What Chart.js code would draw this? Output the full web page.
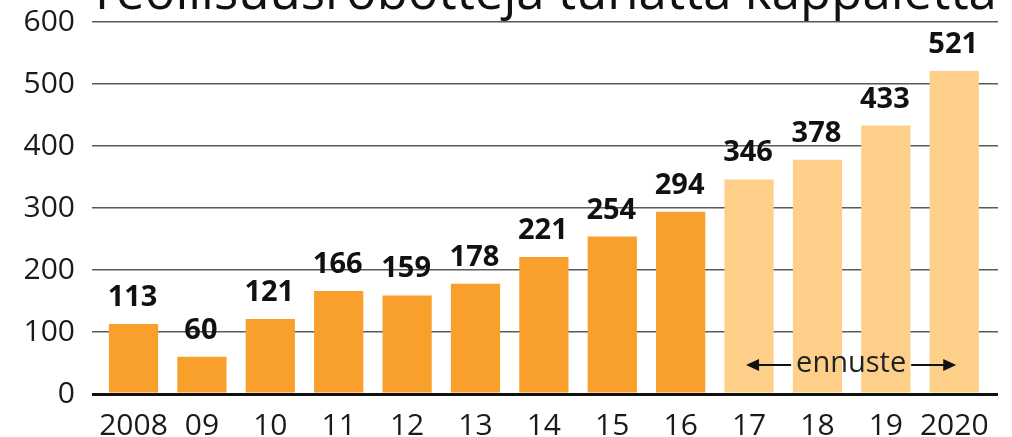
<!DOCTYPE html>
<html><head><meta charset="utf-8">
<script src="https://cdn.jsdelivr.net/npm/chart.js@4/dist/chart.umd.min.js"></script>
<style>html,body{margin:0;padding:0;background:#fff;overflow:hidden}
#wrap{position:relative;width:1012px;height:437px}</style>
</head><body><div id="wrap"><canvas id="c"></canvas></div>
<script>
const title = 'Teollisuusrobotteja tuhatta kappaletta';
const years = ['2008','09','10','11','12','13','14','15','16','17','18','19','2020'];
const robots = [113,60,121,166,159,178,221,254,294,346,378,433,521];
const forecastFrom = 9;
const forecastLabel = 'ennuste';
const yTicks = [0,100,200,300,400,500,600];

const FONT = '"Open Sans", "DejaVu Sans", sans-serif';
const DARK = '#F8A02B', LIGHT = '#FDCF88';

const titlePlugin = {
  id: 'titleCut',
  afterDraw(chart) {
    const ctx = chart.ctx;
    ctx.save();
    ctx.font = '40px ' + FONT;
    const w = ctx.measureText(title).width;
    const size = 40 * 909 / w;
    ctx.font = size + 'px ' + FONT;
    ctx.fillStyle = '#111';
    ctx.textBaseline = 'alphabetic';
    ctx.textAlign = 'left';
    ctx.fillText(title, 88, 9);
    ctx.restore();
  }
};

const valuePlugin = {
  id: 'values',
  afterDatasetsDraw(chart) {
    const ctx = chart.ctx;
    const meta = chart.getDatasetMeta(0);
    ctx.save();
    ctx.font = 'bold 29px ' + FONT;
    ctx.fillStyle = '#111';
    ctx.textAlign = 'center';
    ctx.textBaseline = 'alphabetic';
    meta.data.forEach((bar, i) => {
      ctx.fillText(String(robots[i]), bar.x - 1, bar.y - 18);
    });
    ctx.restore();
  }
};

const forecastPlugin = {
  id: 'forecast',
  afterDatasetsDraw(chart) {
    const ctx = chart.ctx;
    const xs = chart.scales.x;
    const x1 = xs.getPixelForValue(forecastFrom) - 3;
    const x2 = xs.getPixelForValue(years.length - 1) + 2;
    const y = chart.chartArea.bottom - 29;
    const mid = (x1 + x2) / 2;
    ctx.save();
    ctx.font = '29px ' + FONT;
    const tw = ctx.measureText(forecastLabel).width;
    ctx.fillStyle = '#222';
    ctx.textAlign = 'center';
    ctx.textBaseline = 'middle';
    ctx.fillText(forecastLabel, mid, y - 1);
    ctx.strokeStyle = '#111';
    ctx.lineWidth = 2;
    const gap = 5;
    const ah = 13, aw = 6;
    ctx.beginPath();
    ctx.moveTo(x1 + ah - 1, y); ctx.lineTo(mid - tw / 2 - gap, y);
    ctx.moveTo(mid + tw / 2 + gap, y); ctx.lineTo(x2 - ah + 1, y);
    ctx.stroke();
    ctx.fillStyle = '#111';
    ctx.beginPath();
    ctx.moveTo(x1, y); ctx.lineTo(x1 + ah, y - aw); ctx.lineTo(x1 + ah, y + aw); ctx.closePath();
    ctx.fill();
    ctx.beginPath();
    ctx.moveTo(x2, y); ctx.lineTo(x2 - ah, y - aw); ctx.lineTo(x2 - ah, y + aw); ctx.closePath();
    ctx.fill();
    ctx.restore();
  }
};

new Chart(document.getElementById('c'), {
  type: 'bar',
  data: {
    datasets: [{
      data: robots.map((v, i) => ({ x: i, y: v })),
      backgroundColor: robots.map((_, i) => i >= forecastFrom ? LIGHT : DARK),
      borderWidth: 0,
      barPercentage: 0.72,
      categoryPercentage: 1
    }]
  },
  options: {
    responsive: true,
    maintainAspectRatio: false,
    animation: false,
    devicePixelRatio: 1,
    layout: { padding: { top: 22, right: 14, left: 0, bottom: 0 } },
    plugins: { legend: { display: false }, tooltip: { enabled: false }, title: { display: false } },
    scales: {
      x: {
        type: 'linear',
        offset: false,
        min: -0.607,
        max: 12.64,
        afterBuildTicks(s) { s.ticks = years.map((_, i) => ({ value: i })); },
        afterFit(s) { s.height = 43; s.paddingLeft = 0; s.paddingRight = 0; },
        ticks: {
          autoSkip: false,
          maxRotation: 0,
          callback: (v) => years[v],
          font: { family: FONT, size: 30 },
          color: '#1a1a1a',
          padding: 14
        },
        grid: { display: false, drawTicks: false, offset: false },
        border: { display: false }
      },
      y: {
        min: 0,
        max: 600,
        afterBuildTicks(s) { s.ticks = yTicks.map(v => ({ value: v })); },
        afterFit(s) { s.width = 92; s.paddingTop = 0; s.paddingBottom = 0; },
        ticks: {
          font: { family: FONT, size: 30 },
          color: '#1a1a1a',
          padding: 17
        },
        grid: {
          drawTicks: false,
          color: (c) => c.tick && c.tick.value === 0 ? '#111' : '#5a5a5a',
          lineWidth: (c) => c.tick && c.tick.value === 0 ? 3 : 1.6
        },
        border: { display: false }
      }
    }
  },
  plugins: [titlePlugin, valuePlugin, forecastPlugin]
});
</script></body></html>
